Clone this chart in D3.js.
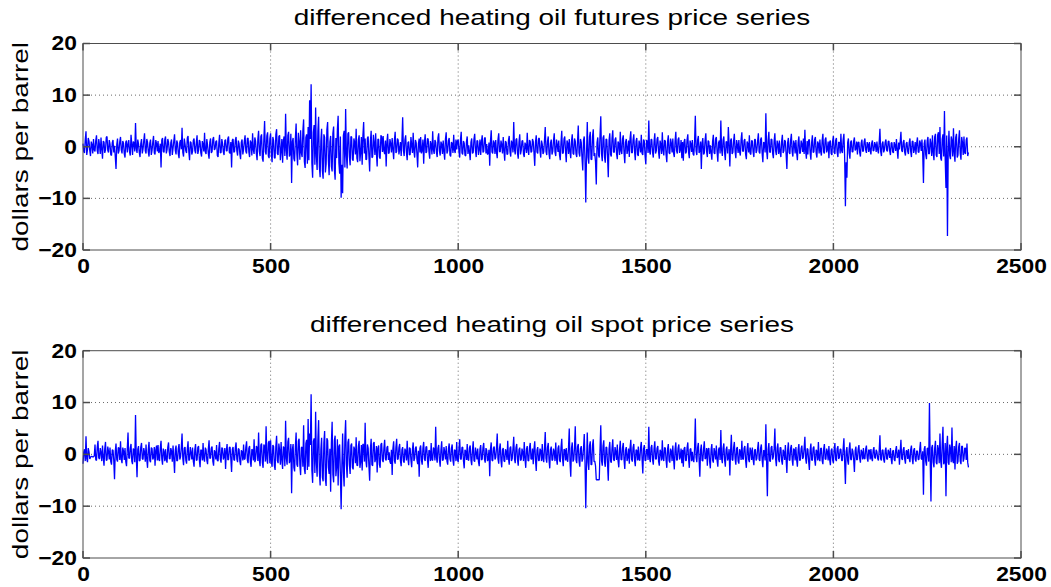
<!DOCTYPE html>
<html>
<head>
<meta charset="utf-8">
<script src="https://cdn.jsdelivr.net/npm/d3@7"></script>
<style>
  html, body { margin: 0; padding: 0; background: #fff; }
  svg { display: block; }
</style>
</head>
<body>
<svg id="chart" width="1051" height="587"></svg>
<script>
// ---- data (one value every 2 observations, starting at observation 0) ----
const xStep = 2;
const futures = [
  0.6,-0.9,-1.2,1.4,3.0,-1.6,-0.5,1.7,1.1,-0.7,-1.8,1.0,0.4,-1.3,1.5,-0.6,-0.9,1.2,2.2,-0.8,-1.4,1.5,0.3,-1.4,1.8,-0.5,-2.3,1.1,0.9,-1.2,-0.6,1.8,2.0,-0.7,-1.1,1.3,0.5,-1.5,-1.7,0.8,1.3,-1.1,0.2,-1.9,-4.3,0.4,1.6,-1.3,-0.8,1.0,
  1.9,-0.6,-1.3,1.1,0.7,-1.4,-2.1,0.9,1.2,-1.1,0.4,1.3,-1.0,-1.7,2.3,0.5,-1.6,1.0,0.8,-0.9,4.6,-0.3,-1.2,1.4,0.5,-1.1,-2.0,0.6,1.5,-1.3,-0.4,1.2,2.6,-0.8,-1.3,1.5,0.9,-1.0,-1.9,0.7,1.4,-1.6,-0.7,0.9,2.1,-1.2,-1.5,1.3,0.6,-0.9,
  1.1,-1.2,-0.8,0.6,-4.0,1.3,1.7,-0.9,-1.1,1.4,2.0,-1.3,-0.6,1.5,0.9,-1.0,-1.8,0.8,1.4,-1.6,-0.3,1.1,2.4,-0.7,-1.5,1.2,0.7,-1.4,-2.2,0.9,1.3,-0.5,3.7,-1.1,-1.9,1.6,0.5,-0.8,-1.2,1.7,2.1,-0.9,-2.6,1.0,0.8,-1.5,-0.9,1.2,1.6,-0.7,
  -1.3,0.8,2.2,-1.4,-0.7,1.3,1.0,-1.2,-1.9,1.1,0.5,-0.9,2.7,-1.0,-1.4,1.5,0.3,-1.3,-2.3,0.9,1.6,-1.2,-0.9,1.4,1.9,-0.6,-0.4,1.0,1.2,-1.7,-2.0,0.7,2.3,-1.2,-1.1,1.5,0.6,-1.0,-1.6,1.2,1.4,-0.8,-0.8,1.6,2.0,-1.1,-1.3,0.9,-4.0,1.3,
  1.5,-1.1,-0.9,1.3,1.9,-0.8,-1.7,1.2,0.6,-1.4,-2.4,0.9,1.4,-1.5,-0.5,1.1,2.2,-0.9,-1.3,1.6,1.7,-1.0,-2.0,1.2,0.8,-1.7,2.6,-0.6,-1.4,1.8,1.1,-1.3,-2.6,1.5,3.1,-0.9,-1.8,2.0,2.4,-2.2,-2.9,1.4,5.0,-1.0,-1.5,2.1,2.8,-1.8,-2.2,1.6,
  2.6,-1.5,-3.0,1.9,1.2,-2.1,-2.2,2.4,3.4,-1.3,-1.6,2.0,2.2,-2.6,-0.8,1.5,-3.1,1.2,2.0,-1.8,6.4,-0.6,-2.5,2.2,2.9,-1.9,-1.4,2.5,-7.0,1.0,1.7,-2.3,-2.8,1.6,4.5,-1.4,-3.6,2.7,0.9,-2.5,3.2,-1.2,-2.0,3.0,5.3,-2.9,-4.1,1.8,2.4,-3.3,
  3.8,-2.6,9.0,1.5,12.1,-3.2,-6.0,2.8,4.2,-3.5,7.6,-1.8,-4.5,3.0,5.8,-3.9,-5.9,1.2,3.5,-4.6,-6.2,2.4,1.8,-5.0,-3.4,3.3,4.8,-2.7,-5.5,0.9,2.1,-3.8,-4.8,2.6,3.9,-4.4,-6.4,1.7,-2.2,3.4,6.0,-3.1,-5.2,2.0,-9.9,-3.5,-9.0,2.2,3.1,-4.0,
  7.3,-1.6,-4.2,2.5,2.8,-1.9,-3.6,2.0,1.9,-2.4,-2.7,1.6,0.8,-1.5,3.5,-2.2,-3.0,1.4,2.2,-2.8,-1.1,1.9,-3.5,2.1,4.8,-1.3,1.6,-2.5,-2.4,1.7,2.0,-1.8,-4.8,1.1,3.1,-2.1,-2.0,2.3,0.7,-1.6,2.6,-1.2,-3.8,1.5,1.4,-2.0,-2.3,2.2,1.9,-1.0,
  2.1,-0.8,-1.4,1.2,-3.8,0.9,2.5,-1.3,-1.2,1.5,0.6,-1.1,1.7,-0.5,-2.4,1.3,2.9,-1.2,-0.9,1.6,1.3,-1.5,-0.4,0.9,-1.8,1.1,5.7,-0.7,-1.8,1.4,2.2,-1.0,-2.6,0.8,1.0,-1.6,-1.5,1.9,0.3,-1.2,2.7,-0.9,-2.1,1.3,0.8,-1.4,-4.0,0.6,1.6,-1.1,
  1.9,-1.3,-0.7,1.4,-3.3,0.8,2.4,-1.2,-1.0,1.6,1.5,-0.9,-2.3,1.1,0.4,-1.5,3.0,-0.6,-1.4,1.3,0.9,-1.1,-2.0,1.7,2.6,-0.8,-1.7,1.0,0.5,-1.4,1.2,-1.0,-2.5,1.5,2.8,-1.3,-0.8,1.2,1.7,-1.6,-1.9,0.9,0.6,-1.2,2.3,-0.7,-1.2,1.4,-0.5,1.1,
  1.4,-0.9,-2.1,1.3,2.9,-1.2,-1.5,1.1,0.7,-1.6,-1.8,1.0,2.0,-1.4,0.3,-1.0,-2.6,0.9,1.6,-1.3,-1.1,1.5,2.5,-0.7,-2.0,1.2,1.1,-1.6,-0.6,1.4,-1.6,1.0,2.2,-1.1,-0.9,1.6,1.8,-1.3,0.5,-1.5,-1.3,0.8,-3.7,1.1,3.2,-1.0,-1.3,1.2,0.8,-1.4,
  1.3,-1.0,-2.2,1.4,2.6,-0.9,-1.0,1.2,0.4,-1.3,1.9,-0.8,-2.7,1.1,0.8,-1.5,-1.4,1.3,2.1,-1.0,-1.9,1.2,0.6,-1.1,4.8,-0.5,-1.5,1.4,1.6,-1.2,-2.3,0.9,2.4,-1.5,-0.7,1.1,1.2,-1.4,-2.0,0.8,0.3,-1.2,2.7,-0.6,-1.6,1.3,1.0,-1.1,-0.9,1.5,
  1.0,-1.2,-3.7,0.9,2.2,-1.0,-1.3,1.5,1.7,-0.8,-2.1,1.2,0.5,-1.4,-1.0,1.3,3.8,-0.9,-1.6,1.1,2.0,-1.3,-2.4,0.7,1.4,-1.5,-0.9,1.2,2.6,-1.1,-1.8,1.4,0.4,-1.0,1.2,-1.6,-2.6,0.9,3.1,-1.3,-1.2,1.5,2.0,-0.8,-3.0,1.2,0.7,-1.4,1.5,-1.0,
  -2.2,1.1,2.4,-1.3,-1.5,1.6,1.1,-1.4,-2.0,1.0,4.1,-1.2,-1.9,1.5,0.8,-2.2,-4.6,1.3,2.0,-2.6,-10.8,-1.5,4.8,-2.0,-3.3,1.9,2.9,-2.4,-2.5,2.0,3.4,-1.8,-1.2,-3.0,-7.3,0.8,1.8,-1.6,-2.1,2.3,5.9,-1.4,-2.8,1.7,2.2,-2.0,-3.1,1.5,1.4,-1.9,
  -5.9,1.2,2.6,-1.5,-1.9,1.7,3.2,-1.0,-1.1,1.4,1.8,-1.3,-2.4,1.0,0.6,-1.6,2.9,-0.8,-1.4,1.5,2.2,-1.2,-3.2,0.9,1.5,-1.4,-0.5,1.2,-2.0,1.6,3.0,-1.1,-1.2,1.3,2.4,-0.9,-2.6,1.1,1.7,-1.5,-1.8,1.2,0.4,-1.1,2.3,-1.3,-1.6,1.4,1.1,-1.7,
  -3.4,1.3,1.0,-1.2,5.1,-0.9,-1.5,1.4,1.4,-1.1,-2.1,1.0,2.6,-1.3,-0.8,1.5,1.9,-1.0,-2.3,1.2,0.5,-1.4,2.8,-0.7,-1.7,1.3,1.1,-1.5,-3.0,1.0,2.2,-1.2,-1.4,1.6,0.7,-1.1,1.6,-1.3,-2.0,1.1,2.9,-0.8,-1.3,1.4,1.8,-1.2,-0.6,1.3,-2.2,0.9,
  -2.7,1.0,1.5,-1.3,-1.0,1.4,2.4,-1.1,-2.2,1.2,0.6,-1.0,1.3,-1.4,-1.7,1.1,6.0,-0.8,-1.6,1.3,2.1,-1.2,-0.8,1.0,-4.3,0.7,1.7,-1.5,-1.2,1.3,2.6,-0.9,-2.0,1.2,1.0,-1.4,0.3,-1.1,-2.5,1.0,2.3,-1.2,-1.4,1.5,1.9,-1.0,-2.9,0.8,1.2,-1.3,
  5.1,-0.6,-1.8,1.3,2.0,-1.1,-2.6,1.0,0.9,-1.3,3.8,0.5,-3.8,1.2,1.6,-1.4,-1.1,1.1,2.5,-0.9,-2.2,1.3,0.4,-1.2,1.3,-1.0,-1.7,1.4,2.8,-0.8,-0.9,1.2,1.5,-1.5,-2.4,1.0,0.6,-1.1,2.2,-1.3,-1.5,1.2,1.1,-1.0,-2.0,1.4,1.4,-1.2,-0.7,1.1,
  2.6,-1.0,-1.3,1.4,1.8,-1.2,-3.0,0.9,0.7,-1.1,6.5,-0.7,-2.4,1.3,2.9,-1.0,-1.1,1.5,1.4,-1.3,-2.2,1.1,2.6,-0.8,-1.6,1.2,0.5,-1.4,1.2,-1.1,-2.0,1.0,2.3,-1.2,-0.8,1.3,1.0,-1.5,-4.3,0.8,1.7,-1.1,-1.4,1.3,2.5,-1.0,-1.9,1.2,0.6,-1.3,
  1.3,-1.1,-2.6,0.9,2.0,-1.3,-1.2,1.2,0.5,-1.0,1.6,-1.4,3.3,-0.8,-2.3,1.1,-1.5,1.3,1.4,-1.2,-2.5,0.8,2.2,-1.1,-1.0,1.4,1.9,-1.2,-2.1,1.0,0.6,-1.3,1.4,-0.9,-1.7,1.2,2.5,-1.0,-1.3,1.4,1.8,-1.1,-0.5,1.0,-2.2,0.9,1.2,-1.3,-1.6,1.1,
  2.1,-1.0,-1.4,1.2,1.7,-1.1,-2.0,0.9,0.8,-1.3,2.5,-0.8,-1.2,1.4,2.5,-2.0,-11.5,-3.0,-6.0,0.8,1.6,-1.2,-2.3,0.9,1.2,-1.0,-1.0,1.1,1.8,-0.7,-0.4,1.0,-1.5,0.8,0.9,-1.1,-1.9,0.7,1.4,-0.9,-0.8,1.0,1.6,-0.6,-1.2,0.9,0.5,-1.0,0.9,-0.7,
  -1.5,0.7,1.2,-0.8,-0.7,0.9,0.4,-1.0,1.0,-0.6,-1.3,0.8,3.5,-0.9,-1.8,0.6,1.0,-1.1,-0.6,0.9,1.4,-0.7,-0.9,1.0,1.1,-0.8,-1.6,0.7,0.8,-1.0,-1.2,0.9,0.3,-0.8,1.5,-0.6,-2.3,0.8,-0.5,1.0,2.9,-0.7,-1.0,0.9,1.3,-1.1,-1.7,0.6,0.9,-0.9,
  -1.4,0.8,1.6,-0.9,-2.0,1.0,1.1,-1.2,-0.5,0.9,-1.5,0.7,1.8,-1.0,-1.1,1.2,0.7,-0.8,1.4,-1.3,-7.0,0.6,1.4,-1.5,-2.4,1.2,1.9,-1.4,-1.3,1.6,0.6,-1.8,2.2,-1.1,-2.6,1.9,2.5,-1.6,-2.0,2.3,2.8,-1.4,3.8,-2.2,-2.7,1.5,2.4,-1.9,6.9,-2.5,
  -8.0,2.2,-17.3,-1.0,3.1,-1.7,-2.4,2.0,1.2,-1.9,3.6,-1.2,-2.9,1.8,2.5,-2.1,-1.6,1.5,3.2,-1.3,-2.5,1.9,0.8,-1.6,2.0,-1.2,-1.4,1.3,1.8,-1.8,-1.1
];
const spot = [
  -1.8,0.4,1.0,-1.3,3.5,-0.8,-1.5,1.2,0.5,-0.9,-0.6,-0.4,-0.4,-0.5,-0.5,-0.3,1.9,-1.0,-1.2,1.4,2.6,-0.7,-0.9,1.2,0.4,-1.3,1.7,-0.6,-2.2,1.1,2.4,-1.2,-1.1,1.5,0.6,-1.0,1.3,-1.4,-2.0,0.9,0.8,-1.2,-4.8,0.6,2.1,-1.0,-1.4,1.3,1.2,-1.1,
  2.5,-0.9,-1.7,1.3,0.6,-1.1,1.2,-1.4,-2.3,1.0,4.2,-0.7,-0.8,1.2,2.0,-1.3,-1.9,1.1,0.9,-1.5,7.6,-0.5,-4.4,1.0,1.6,-1.3,-1.2,1.4,2.2,-0.8,-1.0,1.2,0.4,-1.4,1.9,-1.0,-2.6,0.9,2.4,-1.2,-1.5,1.3,1.1,-1.0,-0.6,1.4,-2.2,0.8,1.7,-1.2,
  1.8,-1.0,-1.3,1.2,2.6,-0.9,-2.0,1.1,0.5,-1.3,1.0,-1.0,-1.6,1.4,2.3,-0.8,-0.9,1.2,0.6,-1.4,1.7,-0.9,-3.6,0.8,1.7,-1.3,-1.2,1.1,2.0,-1.0,-0.5,1.3,4.0,-0.8,-2.1,1.2,1.4,-1.1,-1.8,1.0,2.5,-1.2,-1.0,1.4,0.3,-1.0,1.3,-1.3,-2.4,0.9,
  2.0,-1.2,-1.1,1.3,1.6,-1.0,-2.5,0.9,0.7,-1.2,2.2,-0.9,-1.4,1.3,0.9,-1.1,-1.9,1.0,2.7,-0.8,-0.7,1.2,1.5,-1.3,-2.2,0.8,0.4,-1.0,1.8,-1.2,-1.3,1.1,2.4,-0.9,-1.6,1.3,1.1,-1.0,-0.5,1.2,-2.8,0.7,2.0,-1.1,-1.0,1.3,1.4,-0.9,-3.4,1.0,
  1.4,-1.0,-1.2,1.3,2.3,-0.9,-1.5,1.1,1.0,-1.3,-2.1,0.8,0.5,-1.2,1.9,-1.0,-0.8,1.4,2.5,-1.1,-1.7,1.2,1.6,-1.4,-2.4,1.0,0.8,-1.2,2.9,-1.5,-1.0,1.6,1.3,-1.3,4.2,-1.1,-2.3,1.8,2.1,-1.6,-2.6,1.9,1.5,-1.4,5.4,-0.9,-1.8,2.2,2.6,-1.7,
  2.7,-1.4,-2.4,1.8,1.5,-2.2,-3.0,1.6,3.6,-1.2,-1.7,2.1,0.8,-2.0,2.4,-1.1,-2.8,1.5,1.2,-2.3,6.5,-0.8,-2.0,2.4,3.2,-1.7,-1.1,2.0,-7.5,0.9,2.0,-2.5,-3.3,1.4,4.2,-1.9,-2.4,2.6,3.0,-2.1,-4.0,1.3,1.4,-2.4,5.6,-2.8,-3.8,2.1,2.8,-3.0,
  6.8,-2.4,4.0,1.8,11.6,-3.0,-5.5,2.5,3.1,-3.6,8.2,-1.4,-4.3,2.9,6.6,-3.3,-6.0,1.0,3.2,-4.4,-5.2,2.3,4.5,-4.8,-6.1,3.1,2.7,-2.5,-3.8,1.1,-7.2,2.2,6.3,-3.9,-5.4,2.7,3.6,-4.2,-2.4,2.9,-6.0,1.5,1.9,-4.0,-10.6,-2.0,4.0,-3.4,-6.2,3.2,
  6.6,-1.9,-4.5,2.3,3.0,-2.0,-3.8,1.7,2.1,-2.5,-2.9,1.5,0.9,-1.7,3.3,-2.1,-2.2,1.6,2.6,-2.6,-1.4,1.8,-3.1,2.0,1.8,-1.4,6.1,-1.2,-2.5,1.9,1.2,-2.2,-5.1,1.0,3.0,-2.0,-2.2,2.1,2.4,-1.5,-0.8,1.6,-3.5,1.2,1.7,-2.0,-2.6,1.9,2.2,-1.1,
  -1.5,1.2,2.8,-0.9,-1.2,1.3,1.6,-1.1,0.4,-1.4,-1.8,0.9,-4.0,1.1,2.5,-1.2,-1.8,1.4,3.0,-1.0,-0.9,1.3,2.0,-1.2,-2.3,0.9,1.4,-1.3,-1.6,1.1,0.6,-1.2,2.6,-0.8,-2.1,1.3,1.1,-1.1,-2.5,0.9,2.3,-1.3,-0.7,1.2,1.5,-1.0,-1.9,0.7,-4.3,1.2,
  1.7,-1.1,-2.0,1.2,2.4,-0.9,-1.3,1.4,1.5,-1.0,-2.6,0.8,0.6,-1.3,2.2,-1.0,-1.2,1.3,1.0,-1.2,5.3,-0.6,-1.6,1.2,1.8,-1.1,-2.4,0.9,2.5,-1.2,-1.1,1.4,0.5,-1.0,1.6,-1.3,-2.0,1.1,2.1,-0.8,-1.4,1.2,1.9,-1.1,-2.2,0.9,0.7,-1.3,2.4,-1.0,
  -1.5,1.1,2.9,-0.8,-1.0,1.3,1.4,-1.2,-2.7,0.9,0.6,-1.1,2.0,-1.0,-1.2,1.3,1.7,-1.1,-2.1,0.8,2.5,-1.2,-1.4,1.3,0.4,-1.0,1.1,-1.4,-2.3,1.0,1.8,-1.1,-0.9,1.3,2.2,-0.9,-1.6,1.2,0.8,-1.3,-1.0,0.9,-4.2,1.0,2.3,-1.1,-1.3,1.2,1.5,-1.0,
  -0.6,1.2,4.0,-0.9,-1.8,1.1,2.1,-1.2,-2.5,0.9,1.2,-1.3,-1.4,1.0,0.5,-1.1,2.6,-0.8,-2.0,1.2,1.5,-1.3,-0.8,1.1,3.4,-0.9,-1.7,1.3,2.0,-1.0,-2.2,0.9,1.3,-1.2,-1.0,1.1,0.4,-1.3,2.4,-0.8,-2.6,1.0,1.6,-1.2,-1.3,1.3,2.2,-0.9,-0.9,1.1,
  -1.9,1.0,2.5,-1.1,-3.2,0.8,1.4,-1.2,-1.2,1.1,0.7,-1.3,2.0,-0.9,-1.5,1.2,4.3,-0.8,-1.6,1.3,2.2,-1.0,-2.7,0.9,1.5,-1.2,-1.0,1.1,0.5,-1.3,2.3,-0.9,-2.0,1.2,1.7,-1.1,-1.5,1.3,3.0,-0.8,-2.3,1.0,0.9,-1.2,1.2,-1.1,-1.4,1.3,5.0,-1.6,
  -4.3,1.2,2.3,-1.4,-1.0,1.3,5.4,-1.1,-1.7,1.5,2.0,-1.2,-2.4,1.1,1.6,-1.4,-0.8,1.2,3.9,-1.6,-10.4,-1.8,4.2,-1.5,-3.0,1.7,2.5,-2.0,-2.0,1.8,2.9,-1.4,-1.3,-2.2,-4.9,-4.9,-4.9,-4.9,-4.9,1.0,5.6,-1.2,-2.2,1.6,2.7,-1.5,-2.4,1.4,1.3,-1.8,
  -5.1,1.0,2.4,-1.3,-1.6,1.2,2.9,-1.0,-1.3,1.4,0.5,-1.1,1.9,-1.2,-2.5,0.9,2.6,-1.0,-1.1,1.3,2.2,-1.1,-2.8,0.8,1.4,-1.3,-0.6,1.1,-1.8,1.2,2.8,-0.9,-1.4,1.3,2.0,-1.1,-2.3,0.9,0.7,-1.2,1.5,-1.0,-1.2,1.3,2.4,-0.8,-3.7,1.0,1.8,-1.2,
  -1.2,1.0,0.9,-1.1,5.3,-0.7,-1.5,1.3,1.8,-1.0,-2.0,1.1,2.5,-0.9,-0.9,1.2,1.6,-1.3,-2.2,0.9,0.4,-1.2,2.7,-0.8,-1.3,1.3,1.2,-1.1,-2.6,1.0,2.0,-1.2,-1.6,1.1,0.6,-1.3,1.7,-0.9,-2.9,1.0,2.3,-1.1,-1.1,1.2,1.9,-1.0,-0.5,1.1,-1.7,0.9,
  -2.4,1.1,1.4,-1.2,-1.2,1.3,2.3,-0.9,-2.6,1.0,1.1,-1.3,0.5,-1.1,-1.5,1.2,6.9,-0.6,-1.5,1.3,2.2,-1.0,-4.3,0.8,1.9,-1.2,-1.3,1.1,2.5,-0.9,-0.7,1.2,-2.2,1.0,1.2,-1.3,-2.7,0.9,2.0,-1.1,-1.6,1.2,0.4,-1.0,1.7,-1.2,-2.4,1.0,1.3,-1.1,
  4.7,-0.8,-1.7,1.2,2.1,-1.1,-2.4,0.9,1.5,-1.2,-0.6,1.0,-4.1,0.7,3.8,-1.0,-1.2,1.3,2.4,-0.9,-2.0,1.1,1.4,-1.3,-1.8,1.0,0.5,-1.1,2.6,-0.8,-1.0,1.2,1.6,-1.2,-2.6,0.9,2.2,-1.0,-1.5,1.3,0.7,-1.1,1.3,-1.0,-2.1,0.8,1.0,-1.2,-0.8,1.1,
  2.4,-1.0,-1.3,1.2,1.9,-1.1,-2.5,0.8,0.6,-1.2,5.8,-1.5,-8.1,0.9,2.2,-1.2,-1.4,1.3,1.6,-1.0,-0.5,1.1,5.0,-0.9,-2.3,1.2,2.1,-1.0,-1.5,1.3,1.3,-1.2,-2.0,0.9,0.4,-1.1,1.8,-1.0,-3.6,0.8,2.3,-1.1,-1.2,1.2,1.8,-1.0,-2.2,1.1,0.9,-1.2,
  1.4,-1.0,-2.4,0.9,2.0,-1.2,-1.1,1.1,1.7,-0.9,-0.5,1.2,3.4,-0.8,-1.8,1.1,1.0,-1.3,-3.0,0.8,2.1,-1.1,-1.2,1.2,1.5,-1.0,-2.2,0.9,0.6,-1.2,2.4,-0.9,-1.3,1.1,1.2,-1.2,-1.9,1.0,2.0,-0.9,-1.0,1.1,0.5,-1.2,1.6,-1.0,-2.1,0.8,1.1,-1.1,
  -1.7,0.9,2.2,-1.0,-1.3,1.1,1.6,-0.9,-0.6,1.0,1.0,-1.2,-1.2,1.1,3.1,-1.4,-5.7,0.6,1.4,-1.2,-2.0,1.0,2.3,-0.9,-1.1,1.1,0.6,-1.0,-3.4,0.7,1.5,-1.1,-1.0,1.0,1.8,-0.8,-1.6,0.9,0.4,-1.0,1.2,-0.8,-0.9,1.0,1.7,-0.7,-1.4,0.9,0.8,-1.0,
  1.0,-0.7,-1.3,0.8,1.4,-0.6,-0.8,0.9,0.5,-0.8,-1.2,0.7,3.7,-0.9,-1.2,0.8,0.9,-1.0,-1.6,0.7,1.3,-0.8,-1.0,0.9,0.4,-0.7,1.2,-0.9,-1.9,0.6,0.8,-1.0,-1.3,0.8,1.6,-0.7,-0.4,0.9,-2.0,0.6,2.8,-0.8,-1.1,0.9,1.4,-0.9,-1.8,0.7,0.7,-0.9,
  1.0,-0.8,-1.5,0.9,1.7,-0.7,-1.9,0.8,1.2,-0.9,-1.4,0.7,0.6,-1.0,-1.0,0.9,2.4,-0.8,-1.0,0.6,-7.8,1.0,1.6,-1.3,-2.2,1.1,1.2,-1.4,9.9,-1.2,-9.1,1.3,1.8,-1.5,-2.5,1.2,2.6,-1.6,-1.9,1.8,0.9,-1.7,4.0,-1.3,-2.6,2.0,5.3,-1.9,-1.5,2.2,
  -8.1,1.4,3.6,-1.6,-2.0,1.9,1.0,-1.5,5.2,-1.2,-1.7,1.6,-2.9,1.2,2.6,-1.8,-1.4,1.5,2.2,-1.3,-1.9,1.6,1.5,-1.4,-0.8,1.2,1.2,-1.1,2.1,-1.6,-2.5
];
const xTicks = [0, 500, 1000, 1500, 2000, 2500];
const yTicks = [-20, -10, 0, 10, 20];
const xDomain = [0, 2500];
const yDomain = [-20, 20];
const titles = ["differenced heating oil futures price series", "differenced heating oil spot price series"];
const yLabel = "dollars per barrel";

// ---- layout ----
const svg = d3.select("#chart");
const left = 83, right = 1021;
const panels = [
  { values: futures, title: titles[0], top: 43.5, bottom: 250 },
  { values: spot, title: titles[1], top: 350.7, bottom: 558 }
];
const FONT = "'Liberation Sans', Arial, Helvetica, sans-serif";
const frameColor = "#4d4d4d";
const tickLen = 7;
const textStretch = 1.3;

panels.forEach(p => {
  const g = svg.append("g");
  const x = d3.scaleLinear().domain(xDomain).range([left, right]);
  const y = d3.scaleLinear().domain(yDomain).range([p.bottom, p.top]);

  // grid
  g.selectAll(".gx").data(xTicks.filter(d => d > xDomain[0] && d < xDomain[1])).join("line")
    .attr("x1", d => x(d)).attr("x2", d => x(d)).attr("y1", p.top).attr("y2", p.bottom)
    .attr("stroke", "#6a6a6a").attr("stroke-width", 1).attr("stroke-dasharray", "1,3");
  g.selectAll(".gy").data(yTicks.filter(d => d > yDomain[0] && d < yDomain[1])).join("line")
    .attr("x1", left).attr("x2", right).attr("y1", d => y(d)).attr("y2", d => y(d))
    .attr("stroke", "#6a6a6a").attr("stroke-width", 1).attr("stroke-dasharray", "1,3");

  // series
  g.append("path").datum(p.values)
    .attr("d", d3.line().x((d, i) => x(i * xStep)).y(d => y(d)))
    .attr("fill", "none").attr("stroke", "#0000ff").attr("stroke-width", 1.3)
    .attr("stroke-linejoin", "bevel");

  // frame
  g.append("rect").attr("x", left).attr("y", p.top)
    .attr("width", right - left).attr("height", p.bottom - p.top)
    .attr("fill", "none").attr("stroke", frameColor).attr("stroke-width", 1);

  // inward ticks
  xTicks.forEach(t => {
    g.append("line").attr("x1", x(t)).attr("x2", x(t)).attr("y1", p.bottom).attr("y2", p.bottom - tickLen)
      .attr("stroke", frameColor).attr("stroke-width", 1.5);
    g.append("line").attr("x1", x(t)).attr("x2", x(t)).attr("y1", p.top).attr("y2", p.top + tickLen)
      .attr("stroke", frameColor).attr("stroke-width", 1.5);
  });
  yTicks.forEach(t => {
    g.append("line").attr("x1", left).attr("x2", left + tickLen).attr("y1", y(t)).attr("y2", y(t))
      .attr("stroke", frameColor).attr("stroke-width", 1.5);
    g.append("line").attr("x1", right).attr("x2", right - tickLen).attr("y1", y(t)).attr("y2", y(t))
      .attr("stroke", frameColor).attr("stroke-width", 1.5);
  });

  // tick labels
  const ax = g.append("g").attr("transform", `translate(0,${p.bottom})`)
    .call(d3.axisBottom(x).tickValues(xTicks).tickSize(0).tickPadding(9).tickFormat(d3.format("d")));
  ax.select(".domain").remove();
  ax.attr("font-size", 20).attr("font-family", FONT).attr("font-weight", "bold");
  ax.selectAll("text").attr("fill", "#000").attr("transform", "scale(1.14,1)");

  const ay = g.append("g").attr("transform", `translate(${left},0)`)
    .call(d3.axisLeft(y).tickValues(yTicks).tickSize(0).tickPadding(5.3).tickFormat(d3.format("d")));
  ay.select(".domain").remove();
  ay.attr("font-size", 20).attr("font-family", FONT).attr("font-weight", "bold");
  ay.selectAll("text").attr("fill", "#000").attr("transform", "scale(1.14,1)");

  // title (horizontally stretched to the reference's wide lettering)
  g.append("text")
    .attr("transform", `translate(${(left + right) / 2},${p.top - 18.5}) scale(${textStretch},1)`)
    .attr("text-anchor", "middle").attr("font-family", FONT).attr("font-size", 21.5)
    .attr("fill", "#000").text(p.title);

  // y label
  const cy = (p.top + p.bottom) / 2;
  g.append("text")
    .attr("transform", `translate(28,${cy}) rotate(-90) scale(${textStretch},1)`)
    .attr("text-anchor", "middle").attr("font-family", FONT).attr("font-size", 21.5)
    .attr("fill", "#000").text(yLabel);
});
</script>
</body>
</html>
